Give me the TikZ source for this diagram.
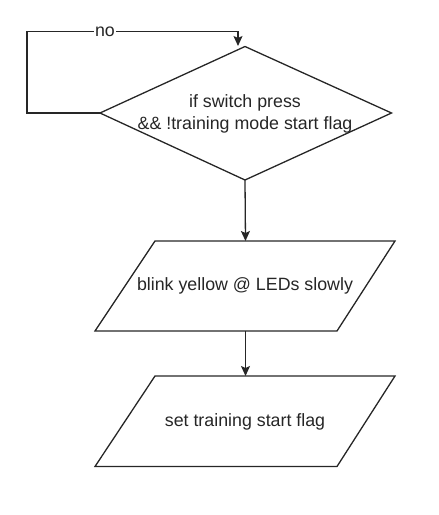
\documentclass[tikz,border=0pt]{standalone}
\usepackage{fontspec}
\setmainfont{Liberation Sans}
\usetikzlibrary{arrows.meta}
\begin{document}
\begin{tikzpicture}[x=1pt,y=-1pt,
  shapeline/.style={line width=1.3pt, draw=black!85},
  conn/.style={line width=1.3pt, draw=black!85, -{Stealth[length=10pt,width=9pt,inset=2pt]}},
  lbl/.style={font=\fontsize{17.8}{21.5}\selectfont, text=black!85, align=center, inner sep=0pt},
  nolbl/.style={font=\fontsize{17.8}{21.5}\selectfont, text=black!85, fill=white, inner sep=1pt}]
\useasboundingbox (0,0) rectangle (439,515);
% decision diamond
\coordinate (dT) at (245,46.5);
\coordinate (dL) at (100,113);
\coordinate (dR) at (391.5,113);
\coordinate (dB) at (245,180);
\draw[shapeline] (dT) -- (dR) -- (dB) -- (dL) -- cycle;
\node[lbl] (dec) at (245,114) {if switch press\\\&\& !training mode start flag};
% parallelogram 1
\coordinate (p1T) at (245.5,241);
\coordinate (p1B) at (245.5,331);
\draw[shapeline] (155,241) -- (395,241) -- (337,331) -- (95,331) -- cycle;
\node[lbl] (blink) at (245,286) {blink yellow @ LEDs slowly};
% parallelogram 2
\coordinate (p2T) at (245.5,376);
\draw[shapeline] (155,376) -- (395,376) -- (337,466.5) -- (95,466.5) -- cycle;
\node[lbl] (set) at (245,422) {set training start flag};
% connectors
\coordinate (loopA) at (27,113);
\coordinate (loopB) at (27,31.5);
\coordinate (loopC) at (238,31.5);
\coordinate (loopEnd) at (238,46);
\draw[conn] (dL) -- (loopA) -- (loopB) -- (loopC) -- (loopEnd);
\node[nolbl] (no) at (105,32) {no};
\draw[conn] (dB) -- (p1T);
\draw[conn] (p1B) -- (p2T);
\end{tikzpicture}
\end{document}
